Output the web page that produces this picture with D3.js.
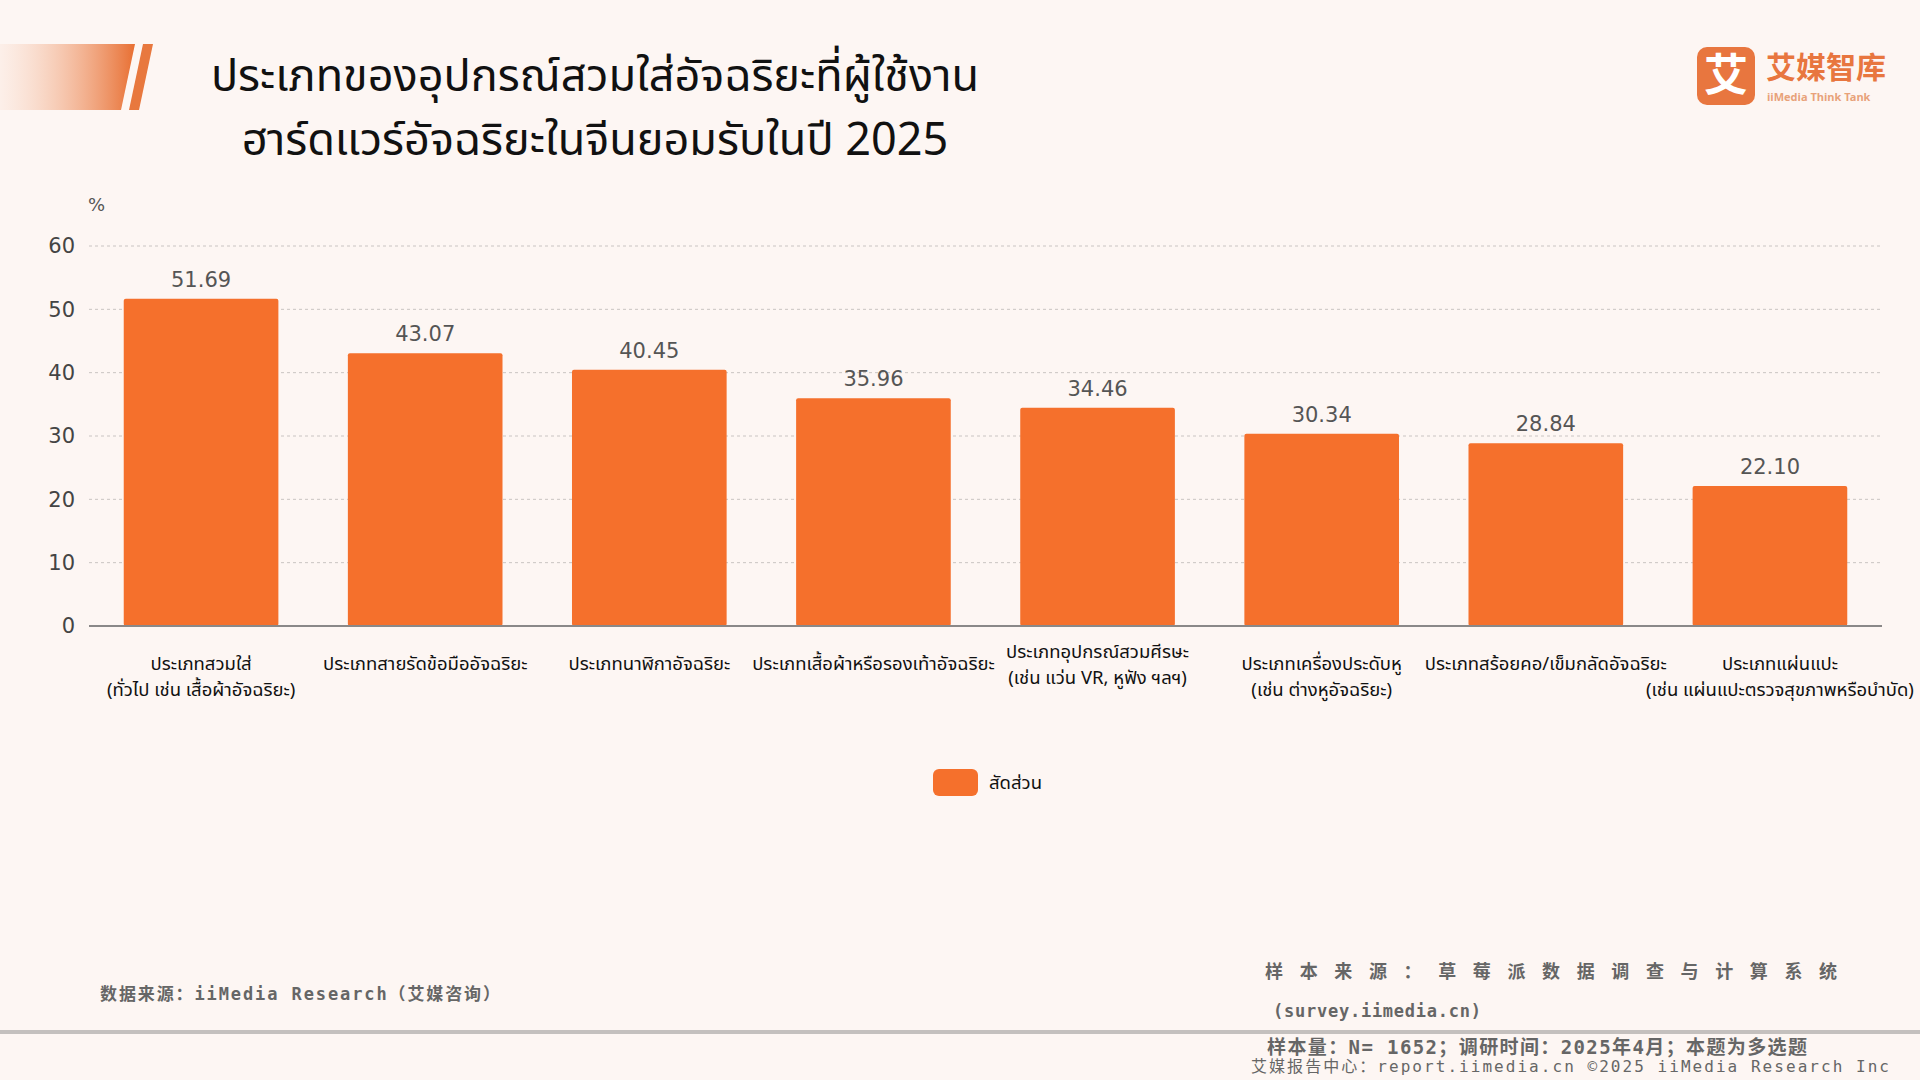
<!DOCTYPE html>
<html>
<head>
<meta charset="utf-8">
<script src="https://cdn.jsdelivr.net/npm/d3@7"></script>
<style>
  html, body { margin: 0; padding: 0; background: #fdf6f3; }
  svg { display: block; font-family: "Noto Sans Thai", "Noto Sans", sans-serif; }
</style>
</head>
<body>
<div id="wrapper"></div>
<script>
// data
const categories = [
    ["ประเภทสวมใส่", "(ทั่วไป เช่น เสื้อผ้าอัจฉริยะ)"],
    ["ประเภทสายรัดข้อมืออัจฉริยะ"],
    ["ประเภทนาฬิกาอัจฉริยะ"],
    ["ประเภทเสื้อผ้าหรือรองเท้าอัจฉริยะ"],
    ["ประเภทอุปกรณ์สวมศีรษะ", "(เช่น แว่น VR, หูฟัง ฯลฯ)"],
    ["ประเภทเครื่องประดับหู", "(เช่น ต่างหูอัจฉริยะ)"],
    ["ประเภทสร้อยคอ/เข็มกลัดอัจฉริยะ"],
    ["ประเภทแผ่นแปะ", "(เช่น แผ่นแปะตรวจสุขภาพหรือบำบัด)"]
]
const values = [51.69, 43.07, 40.45, 35.96, 34.46, 30.34, 28.84, 22.10]
const yTicks = [0, 10, 20, 30, 40, 50, 60]
const titleLines = [
    "ประเภทของอุปกรณ์สวมใส่อัจฉริยะที่ผู้ใช้งาน",
    "ฮาร์ดแวร์อัจฉริยะในจีนยอมรับในปี 2025"
]
const seriesName = "สัดส่วน"

const dimensions = {
    width: 1920,
    height: 1080,
    margin: { top: 246, right: 38, bottom: 454, left: 89 }
}
dimensions.boundedWidth = dimensions.width - dimensions.margin.left - dimensions.margin.right
dimensions.boundedHeight = dimensions.height - dimensions.margin.top - dimensions.margin.bottom

const barColor = "#f5702c"

const svg = d3.select("#wrapper")
    .append("svg")
    .attr("width", dimensions.width)
    .attr("height", dimensions.height)

svg.append("rect")
    .attr("width", dimensions.width)
    .attr("height", dimensions.height)
    .attr("fill", "#fdf6f3")

// top-left decoration
const defs = svg.append("defs")
const grad = defs.append("linearGradient").attr("id", "deco")
grad.append("stop").attr("offset", "0%").attr("stop-color", "#f7c9b0").attr("stop-opacity", 0.15)
grad.append("stop").attr("offset", "100%").attr("stop-color", "#e86f32")
svg.append("path")
    .attr("d", "M0,44 L135,44 L121,110 L0,110 Z")
    .attr("fill", "url(#deco)")
svg.append("path")
    .attr("d", "M143,44 L153,44 L139,110 L129,110 Z")
    .attr("fill", "#e8783e")

// title
svg.append("g")
    .selectAll("text")
    .data(titleLines)
    .join("text")
    .attr("x", 595)
    .attr("y", (d, i) => 91 + i * 64)
    .attr("text-anchor", "middle")
    .attr("font-size", 45)
    .attr("fill", "#111")
    .text(d => d)

// logo
const logo = svg.append("g")
logo.append("rect")
    .attr("x", 1697).attr("y", 47)
    .attr("width", 58).attr("height", 58)
    .attr("rx", 10)
    .attr("fill", "#e8763f")
logo.append("text")
    .attr("x", 1726).attr("y", 91)
    .attr("text-anchor", "middle")
    .attr("font-family", "Noto Sans CJK SC")
    .attr("font-weight", 700)
    .attr("font-size", 44)
    .attr("fill", "#fff")
    .text("艾")
logo.append("text")
    .attr("x", 1766).attr("y", 78)
    .attr("font-family", "Noto Sans CJK SC")
    .attr("font-weight", 700)
    .attr("font-size", 30)
    .attr("fill", "#e8763f")
    .text("艾媒智库")
logo.append("text")
    .attr("x", 1767).attr("y", 101)
    .attr("font-size", 11)
    .attr("font-weight", 700)
    .attr("fill", "#e8a27a")
    .text("iiMedia Think Tank")

const bounds = svg.append("g")
    .attr("transform", `translate(${dimensions.margin.left},${dimensions.margin.top})`)

const xScale = d3.scaleBand()
    .domain(d3.range(categories.length))
    .range([0, dimensions.boundedWidth])
    .paddingInner(0.31)
    .paddingOuter(0.155)

const yScale = d3.scaleLinear()
    .domain([0, 60])
    .range([dimensions.boundedHeight, 0])

// grid
bounds.append("g")
    .selectAll("line")
    .data(yTicks.slice(1))
    .join("line")
    .attr("x1", 0)
    .attr("x2", dimensions.boundedWidth)
    .attr("y1", d => yScale(d))
    .attr("y2", d => yScale(d))
    .attr("stroke", "#c9c4c2")
    .attr("stroke-dasharray", "3,3")

// y axis
const yAxis = bounds.append("g")
    .call(d3.axisLeft(yScale).tickValues(yTicks).tickSize(0).tickPadding(14))
yAxis.select(".domain").remove()
yAxis.selectAll("text")
    .attr("font-size", 21)
    .attr("font-family", "DejaVu Sans")
    .attr("fill", "#444")

bounds.append("text")
    .attr("x", -1)
    .attr("y", -35)
    .attr("font-size", 18)
    .attr("font-family", "DejaVu Sans")
    .attr("fill", "#555")
    .text("%")

// bars
bounds.append("g")
    .selectAll("rect")
    .data(values)
    .join("rect")
    .attr("x", (d, i) => xScale(i))
    .attr("y", d => yScale(d))
    .attr("width", xScale.bandwidth())
    .attr("height", d => dimensions.boundedHeight - yScale(d))
    .attr("rx", 2)
    .attr("fill", barColor)

// value labels
bounds.append("g")
    .selectAll("text")
    .data(values)
    .join("text")
    .attr("x", (d, i) => xScale(i) + xScale.bandwidth() / 2)
    .attr("y", d => yScale(d) - 12)
    .attr("text-anchor", "middle")
    .attr("font-size", 21)
    .attr("font-family", "DejaVu Sans")
    .attr("fill", "#555")
    .text(d => d.toFixed(2))

// baseline
bounds.append("line")
    .attr("x1", 0)
    .attr("x2", dimensions.boundedWidth)
    .attr("y1", dimensions.boundedHeight)
    .attr("y2", dimensions.boundedHeight)
    .attr("stroke", "#8a8888")
    .attr("stroke-width", 2)

// x labels
const xLabels = bounds.append("g")
    .selectAll("text")
    .data(categories)
    .join("text")
    .attr("x", (d, i) => xScale(i) + xScale.bandwidth() / 2 + (i == 7 ? 10 : 0))
    .attr("y", (d, i) => dimensions.boundedHeight + (i == 4 ? 32 : 44))
    .attr("text-anchor", "middle")
    .attr("font-size", 18.5)
    .attr("fill", "#111")
xLabels.selectAll("tspan")
    .data(d => d)
    .join("tspan")
    .attr("x", function () { return d3.select(this.parentNode).attr("x") })
    .attr("dy", (d, i) => i == 0 ? 0 : 26)
    .text(d => d)

// legend
const legend = svg.append("g").attr("transform", "translate(933,769)")
legend.append("rect")
    .attr("width", 45).attr("height", 27).attr("rx", 6)
    .attr("fill", barColor)
legend.append("text")
    .attr("x", 56).attr("y", 20)
    .attr("font-size", 18.5)
    .attr("fill", "#111")
    .text(seriesName)

// footer
const footer = svg.append("g")
    .attr("font-family", "DejaVu Sans Mono, Noto Sans CJK SC")
    .attr("fill", "#666")
    .attr("font-weight", 700)
footer.append("text")
    .attr("x", 100).attr("y", 1000)
    .attr("font-size", 17)
    .attr("textLength", 400)
    .attr("lengthAdjust", "spacing")
    .text("数据来源：iiMedia Research（艾媒咨询）")
footer.append("text")
    .attr("x", 1265).attr("y", 978)
    .attr("font-size", 18)
    .attr("textLength", 572)
    .attr("lengthAdjust", "spacing")
    .text("样本来源：草莓派数据调查与计算系统")
footer.append("text")
    .attr("x", 1273).attr("y", 1017)
    .attr("font-size", 17)
    .attr("textLength", 208)
    .attr("lengthAdjust", "spacing")
    .text("(survey.iimedia.cn)")
svg.append("line")
    .attr("x1", 0).attr("x2", dimensions.width)
    .attr("y1", 1032).attr("y2", 1032)
    .attr("stroke", "#c4c0be")
    .attr("stroke-width", 4)
footer.append("text")
    .attr("x", 1267).attr("y", 1054)
    .attr("font-size", 19)
    .attr("textLength", 540)
    .attr("lengthAdjust", "spacing")
    .text("样本量：N= 1652；调研时间：2025年4月；本题为多选题")
footer.append("text")
    .attr("x", 1251).attr("y", 1072)
    .attr("font-size", 16)
    .attr("font-weight", 400)
    .attr("textLength", 638)
    .attr("lengthAdjust", "spacing")
    .text("艾媒报告中心：report.iimedia.cn  ©2025 iiMedia Research Inc")
</script>
</body>
</html>
